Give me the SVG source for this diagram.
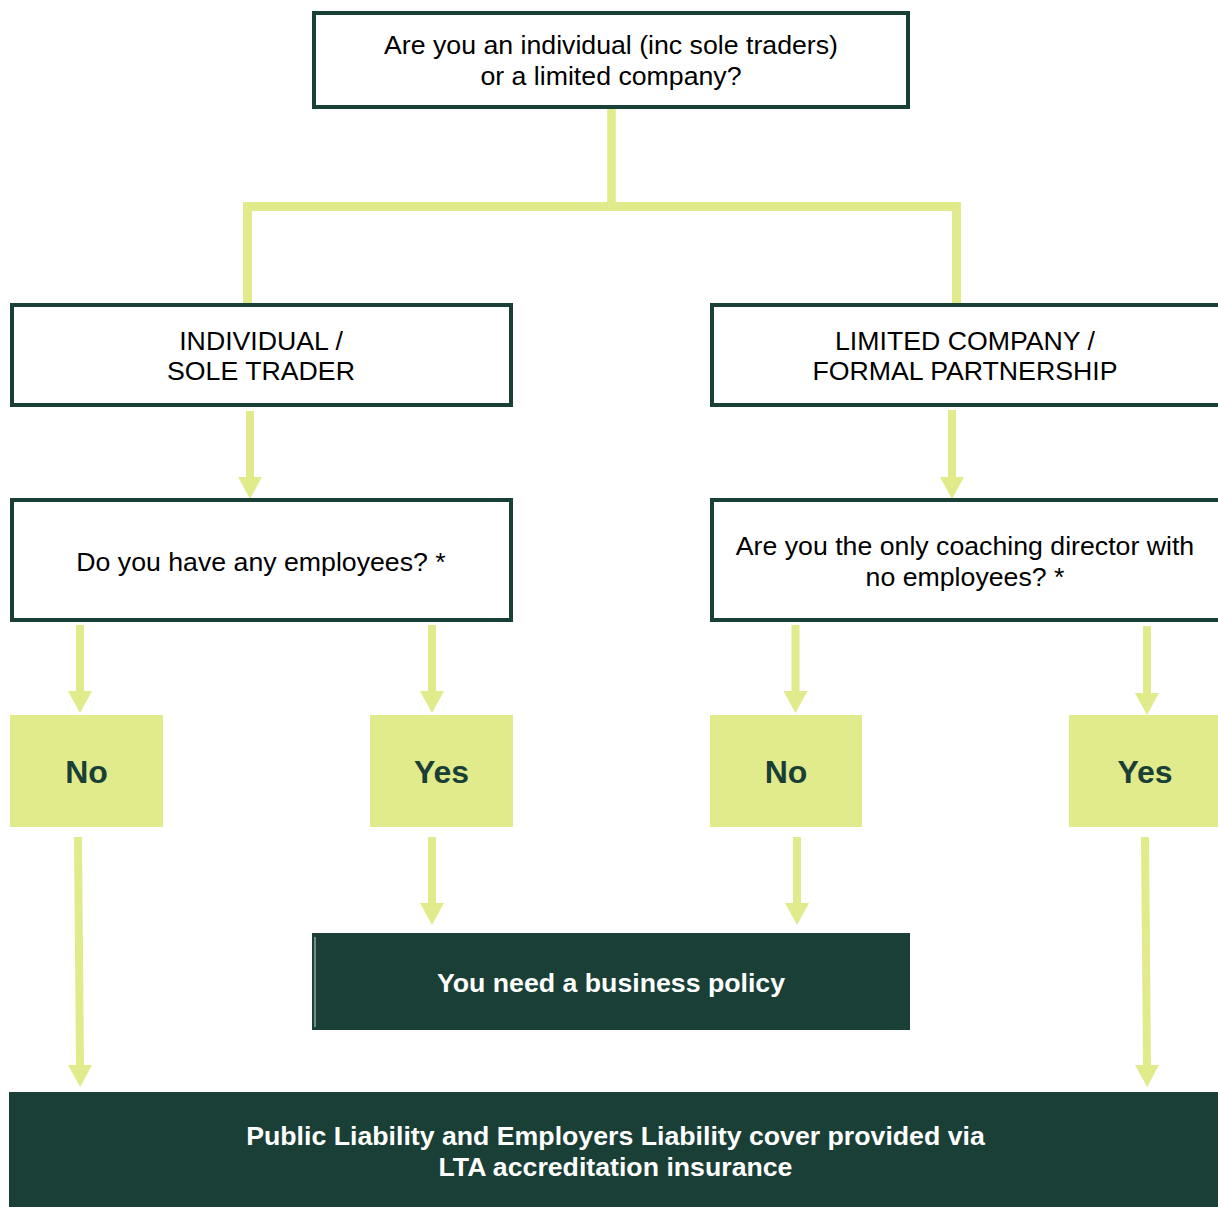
<svg xmlns="http://www.w3.org/2000/svg" width="1218" height="1207" viewBox="0 0 1218 1207">
<defs>
<style>
.box{fill:#ffffff;stroke:#1a3f37;stroke-width:4}
.ans{fill:#e1eb8b}
.dark{fill:#1a3f37}
.t{font-family:"Liberation Sans",Arial,sans-serif;font-size:26.7px;fill:#000;text-anchor:middle}
.a{font-family:"Liberation Sans",Arial,sans-serif;font-size:32px;font-weight:bold;fill:#1a3f37;text-anchor:middle}
.w{font-family:"Liberation Sans",Arial,sans-serif;font-size:26.7px;font-weight:bold;fill:#ffffff;text-anchor:middle}
.c{fill:none;stroke:#e1eb8b;stroke-width:8}
.arr{fill:none;stroke:#e1eb8b;stroke-width:8;marker-end:url(#head)}
</style>
<marker id="head" markerUnits="userSpaceOnUse" viewBox="0 -12 22 24" refX="0" refY="0" markerWidth="22" markerHeight="24" orient="auto">
<path d="M0,-12 L22,0 L0,12 z" fill="#e1eb8b"/>
</marker>
</defs>
<rect width="1218" height="1207" fill="#ffffff"/>

<g id="connectors">
<path class="c" d="M611.5,109 V206.5" style="stroke-width:8.5"/>
<path class="c" d="M247.5,303 V206.5 H956.5 V303" style="stroke-width:9"/>
<path class="arr" d="M250,411 V477"/>
<path class="arr" d="M952,410 V477"/>
<path class="arr" d="M80,625 V691"/>
<path class="arr" d="M432,625 V691"/>
<path class="arr" d="M795.5,625 V691"/>
<path class="arr" d="M1147,626 V693"/>
<path class="arr" d="M432,837 V903"/>
<path class="arr" d="M797,837 V903"/>
<path class="arr" d="M78,837 L80,1065"/>
<path class="arr" d="M1145,837 L1147,1065"/>
</g>

<g id="q-type">
<rect class="box" x="314" y="13" width="594" height="94"/>
<text class="t" x="611" y="54">Are you an individual (inc sole traders)</text>
<text class="t" x="611" y="85">or a limited company?</text>
</g>

<g id="individual">
<rect class="box" x="12" y="305" width="499" height="100"/>
<text class="t" x="261" y="350">INDIVIDUAL /</text>
<text class="t" x="261" y="380">SOLE TRADER</text>
</g>

<g id="limited">
<rect class="box" x="712" y="305" width="520" height="100"/>
<text class="t" x="965" y="350">LIMITED COMPANY /</text>
<text class="t" x="965" y="380">FORMAL PARTNERSHIP</text>
</g>

<g id="q-employees">
<rect class="box" x="12" y="500" width="499" height="120"/>
<text class="t" x="261" y="571">Do you have any employees? *</text>
</g>

<g id="q-director">
<rect class="box" x="712" y="500" width="520" height="120"/>
<text class="t" x="965" y="555">Are you the only coaching director with</text>
<text class="t" x="965" y="586">no employees? *</text>
</g>

<g id="no-left">
<rect class="ans" x="10" y="715" width="153" height="112"/>
<text class="a" x="86.5" y="783">No</text>
</g>

<g id="yes-left">
<rect class="ans" x="370" y="715" width="143" height="112"/>
<text class="a" x="441.5" y="783">Yes</text>
</g>

<g id="no-right">
<rect class="ans" x="710" y="715" width="152" height="112"/>
<text class="a" x="786" y="783">No</text>
</g>

<g id="yes-right">
<rect class="ans" x="1069" y="715" width="149" height="112"/>
<text class="a" x="1145" y="783">Yes</text>
</g>

<g id="business-policy">
<rect class="dark" x="312" y="933" width="598" height="97"/>
<rect x="314.5" y="937" width="1" height="90" fill="#ffffff" opacity="0.8"/>
<text class="w" x="611" y="992">You need a business policy</text>
</g>

<g id="lta-cover">
<rect class="dark" x="9" y="1092" width="1209" height="115"/>
<text class="w" x="615.5" y="1145">Public Liability and Employers Liability cover provided via</text>
<text class="w" x="615.5" y="1176">LTA accreditation insurance</text>
</g>
</svg>
